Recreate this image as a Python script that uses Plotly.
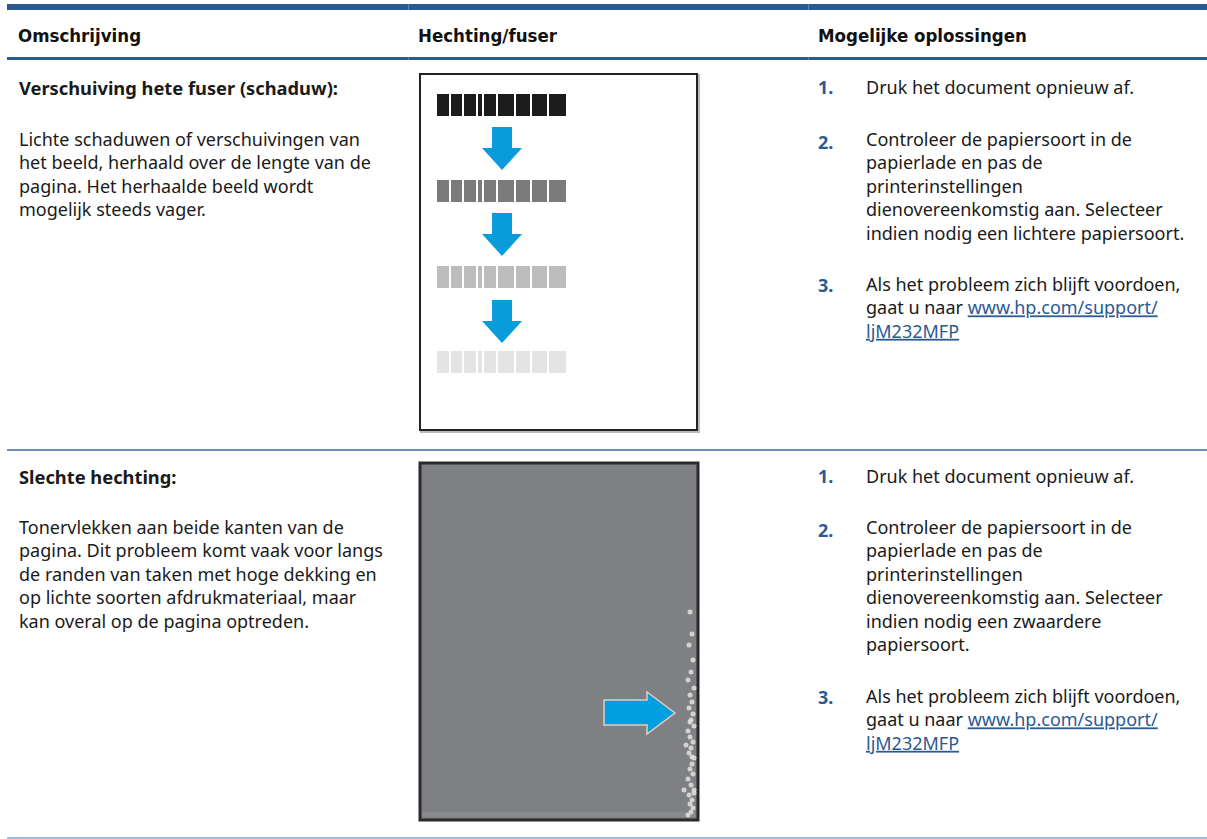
import plotly.graph_objects as go

W, H = 1207, 839
BLUE = "#2B5A92"
ARROW = "#0A9BDB"

headers = ["Omschrijving", "Hechting/fuser", "Mogelijke oplossingen"]
header_x = [16, 416, 816]

row_titles = ["Verschuiving hete fuser (schaduw):", "Slechte hechting:"]
row_title_y = [87, 476]

row_desc = [
    ["Lichte schaduwen of verschuivingen van",
     "het beeld, herhaald over de lengte van de",
     "pagina. Het herhaalde beeld wordt",
     "mogelijk steeds vager."],
    ["Tonervlekken aan beide kanten van de",
     "pagina. Dit probleem komt vaak voor langs",
     "de randen van taken met hoge dekking en",
     "op lichte soorten afdrukmateriaal, maar",
     "kan overal op de pagina optreden."],
]
row_desc_y0 = [141, 530]

LINK = "<span style='color:#2B5A92'><u>{}</u></span>"
solutions = [
    [["Druk het document opnieuw af."],
     ["Controleer de papiersoort in de", "papierlade en pas de", "printerinstellingen",
      "dienovereenkomstig aan. Selecteer", "indien nodig een lichtere papiersoort."],
     ["Als het probleem zich blijft voordoen,",
      "gaat u naar " + LINK.format("www.hp.com/support/"), LINK.format("ljM232MFP")]],
    [["Druk het document opnieuw af."],
     ["Controleer de papiersoort in de", "papierlade en pas de", "printerinstellingen",
      "dienovereenkomstig aan. Selecteer", "indien nodig een zwaardere", "papiersoort."],
     ["Als het probleem zich blijft voordoen,",
      "gaat u naar " + LINK.format("www.hp.com/support/"), LINK.format("ljM232MFP")]],
]
solution_y = [[87, 142, 285], [476, 530, 697]]
LINE_H = 22.1

# image 1: ghosting stripes
stripe_rows_y = [105, 191, 277, 362]
stripe_colors = ["#1c1c1c", "#7a7a7a", "#bdbdbd", "#e4e4e4"]
stripe_edges = [437, 451, 464, 478, 484, 498, 516, 532, 549, 568]
down_arrows_top = [127, 213, 300]

# image 2: speckles on right edge
speck_x = [690, 692, 689, 693, 691, 688, 694, 690, 692, 689, 693, 691, 694, 688, 690, 693, 691, 689,
           694, 692, 690, 693, 688, 691, 694, 689, 692, 690, 693, 691, 688, 694, 692, 690, 686, 684]
speck_y = [612, 634, 645, 660, 672, 680, 688, 695, 702, 708, 714, 720, 726, 731, 737, 742, 748, 753,
           758, 764, 769, 774, 779, 785, 790, 795, 800, 804, 808, 812, 815, 793, 757, 722, 745, 790]

fig = go.Figure()
shapes = []
ann = []

def rect(x0, y0, x1, y1, fill, line=None, lw=0, layer="above"):
    shapes.append(dict(type="rect", x0=x0, y0=y0, x1=x1, y1=y1, fillcolor=fill,
                       line=dict(color=line or fill, width=lw), layer=layer))

# table rules
rect(7, 4, W, 10, BLUE)
rect(7, 57, W, 60, BLUE)
for cx in [408, 808]:
    rect(cx, 4, cx + 1, 10, "#5f83b0")
    rect(cx, 57, cx + 1, 60, "#5f83b0")
rect(7, 449, W, 451, "#6E8FB7")
rect(7, 837, W, 839, "#A3BBDA")

# headers
for t, x in zip(headers, header_x):
    ann.append(dict(x=x, y=35, text="<b>" + t + "</b>", xanchor="left", yanchor="middle",
                    font=dict(family="DejaVu Sans Condensed, Roboto, sans-serif", size=18.5,
                              color="#111111")))

FS = 18
BODY = dict(family="Noto Sans", size=FS, color="#1a1a1a")
TX = 17
NX = 816
SX = 864

def para(x, y0, lines, font):
    n = len(lines)
    yc = y0 + (n - 1) * LINE_H / 2.0
    ann.append(dict(x=x, y=yc, text="<br>".join(lines), xanchor="left", yanchor="middle",
                    align="left", font=font))

for r in range(2):
    ann.append(dict(x=TX, y=row_title_y[r], text="<b>" + row_titles[r] + "</b>", xanchor="left",
                    yanchor="middle", font=dict(family="Noto Sans", size=18.3, color="#1a1a1a")))
    para(TX, row_desc_y0[r], row_desc[r], BODY)
    for k, item in enumerate(solutions[r]):
        y0 = solution_y[r][k]
        ann.append(dict(x=NX, y=y0, text="<b>%d.</b>" % (k + 1), xanchor="left", yanchor="middle",
                        font=dict(family="Noto Sans", size=FS, color=BLUE)))
        para(SX, y0, item, BODY)

# image 1
rect(421, 75, 699, 432, "rgba(0,0,0,0)", "#bbbbbb", 2)
rect(420, 74, 697, 430, "white", "#222222", 2)
for yc, col in zip(stripe_rows_y, stripe_colors):
    for j in range(len(stripe_edges) - 1):
        rect(stripe_edges[j], yc - 11, stripe_edges[j + 1] - 2, yc + 11, col)
for t in down_arrows_top:
    path = "M 492 {a} L 512 {a} L 512 {b} L 522 {b} L 502 {c} L 482 {b} L 492 {b} Z".format(
        a=t, b=t + 21, c=t + 43)
    shapes.append(dict(type="path", path=path, fillcolor=ARROW, line=dict(width=0), layer="above"))

# image 2
rect(420, 463, 698, 820, "#7f8084", "#2a2a2a", 3, layer="below")
rect(423, 812, 695, 817, "#8a8b8e", None, 0, layer="below")
fig.add_trace(go.Scatter(x=speck_x, y=speck_y, mode="markers",
                         marker=dict(size=5, color="rgba(225,225,225,0.85)", line=dict(width=0)),
                         hoverinfo="skip", showlegend=False))
path = "M 604 700 L 647 700 L 647 692 L 675 713 L 647 734 L 647 725 L 604 725 Z"
shapes.append(dict(type="path", path=path, fillcolor="#00A0E0", line=dict(color="#e9c9bd", width=1.5),
                   layer="above"))

fig.update_layout(
    width=W, height=H, margin=dict(l=0, r=0, t=0, b=0),
    paper_bgcolor="white", plot_bgcolor="white",
    xaxis=dict(range=[0, W], visible=False, fixedrange=True),
    yaxis=dict(range=[H, 0], visible=False, fixedrange=True),
    shapes=shapes, annotations=[dict(a, xref="x", yref="y", showarrow=False) for a in ann],
    showlegend=False,
)
fig.write_html("out.html", config={"displayModeBar": False},
               post_script="document.body.style.margin='0';document.body.style.overflow='hidden';")
